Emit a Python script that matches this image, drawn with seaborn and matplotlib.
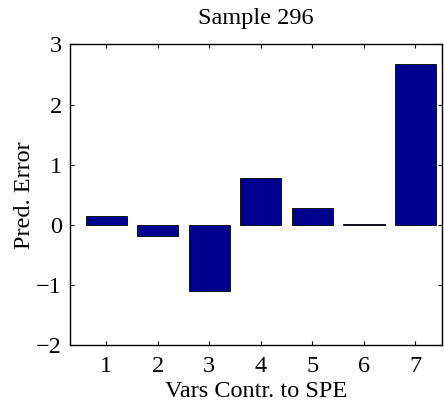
import pandas as pd
import seaborn as sns
import matplotlib.pyplot as plt

# data
variables = [1, 2, 3, 4, 5, 6, 7]
pred_error = [0.15, -0.18, -1.10, 0.77, 0.28, 0.01, 2.67]

df = pd.DataFrame({'var': variables, 'err': pred_error})

sns.set_style("ticks")
plt.rcParams['font.family'] = ['Liberation Serif', 'DejaVu Serif']
plt.rcParams['text.color'] = 'black'
plt.rcParams['axes.labelcolor'] = 'black'

fig = plt.figure(figsize=(4.44, 4.04), dpi=100)
ax = fig.add_axes([0.158, 0.146, 0.838, 0.744])

sns.barplot(data=df, x='var', y='err', native_scale=True, width=0.8,
            color='#00008F', saturation=1, edgecolor='black', linewidth=0.6, ax=ax)

ax.set_xlim(0.3, 7.52)
ax.set_ylim(-2, 3)
ax.set_xticks(variables)
ax.set_yticks([-2, -1, 0, 1, 2, 3])
ax.set_yticklabels(['\u22122', '\u22121', '0', '1', '2', '3'])
ax.tick_params(direction='in', length=3, width=0.8, top=True, right=True,
               labelsize=17.5, colors='black')
ax.tick_params(axis='x', pad=8)
ax.tick_params(axis='y', pad=6)
for s in ax.spines.values():
    s.set_linewidth(1.0)
    s.set_color('black')

ax.set_title('Sample 296', fontsize=17.5, pad=15, color='black')
ax.set_xlabel('Vars Contr. to SPE', fontsize=17.5, labelpad=3)
ax.set_ylabel('Pred. Error', fontsize=17.5, labelpad=1)

fig.savefig('out.png', dpi=100)
